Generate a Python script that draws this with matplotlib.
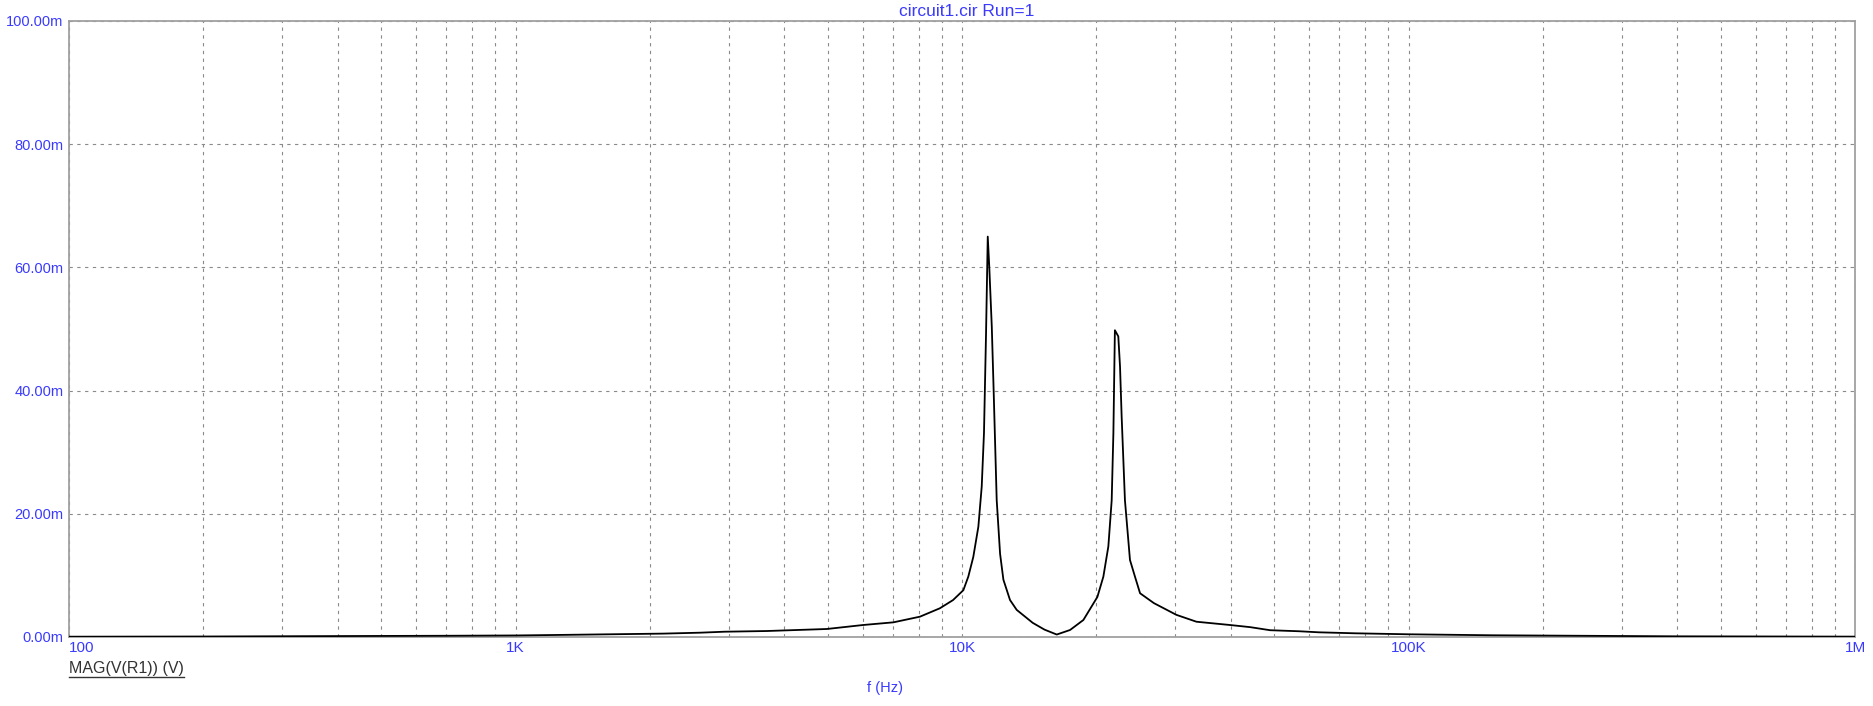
import numpy as np
import matplotlib
matplotlib.use('Agg')
import matplotlib.pyplot as plt
from matplotlib.lines import Line2D
from matplotlib.ticker import FixedLocator, FuncFormatter, NullFormatter

plt.rcParams['font.family'] = ['Liberation Sans', 'DejaVu Sans']

# frequency (Hz) and MAG(V(R1)) in mV
freq = [100, 200, 437, 700, 1000, 1300, 2140, 2590, 2940, 3650, 4980, 6010,
        7020, 8050, 8920, 9550, 10070, 10330, 10600, 10880, 11070, 11200,
        11320, 11420, 11510, 11660, 11760, 11960, 12170, 12380, 12810, 13260,
        14400, 15300, 16300, 17460, 18700, 20100, 20730, 21270, 21640, 21830,
        22000, 22390, 22590, 22780, 23170, 23780, 24400, 25050, 26900, 30200,
        33500, 39800, 44200, 49000, 57000, 63000, 76000, 100000, 154000,
        398000, 1000000]
mag_mv = [0.05, 0.08, 0.16, 0.2, 0.25, 0.35, 0.55, 0.7, 0.86, 0.97, 1.3, 1.95,
          2.38, 3.3, 4.66, 6.0, 7.6, 9.8, 13.0, 17.9, 24.4, 33.1,
          49.3, 65.0, 60.1, 50.4, 41.2, 22.2, 13.5, 9.3, 6.0, 4.4,
          2.3, 1.2, 0.4, 1.14, 2.76, 6.5, 9.8, 14.7, 22.2, 33.1,
          49.8, 48.8, 43.9, 35.8, 22.2, 12.5, 9.8, 7.1, 5.5, 3.6,
          2.48, 1.95, 1.6, 1.1, 0.93, 0.76, 0.6, 0.44, 0.28,
          0.11, 0.06]

x_ticks = [100, 1e3, 1e4, 1e5, 1e6]
x_labels = ['100', '1K', '10K', '100K', '1M']
y_ticks = [0, 20, 40, 60, 80, 100]

blue = '#3a3aff'
frame = '#a0a0a0'

W, H = 1873, 706
fig = plt.figure(figsize=(W / 100, H / 100), dpi=100)
ax = fig.add_axes([69 / W, 69 / H, (1855 - 69) / W, (637 - 21) / H])

ax.plot(freq, mag_mv, color='black', lw=1.3, zorder=3)

ax.set_xscale('log')
ax.set_xlim(100, 1e6)
ax.set_ylim(0, 100)

minor = [m * 10 ** d for d in range(2, 6) for m in range(2, 10)]
ax.xaxis.set_major_locator(FixedLocator(x_ticks))
ax.xaxis.set_minor_locator(FixedLocator(minor))
ax.xaxis.set_minor_formatter(NullFormatter())
ax.set_xticklabels(x_labels)
ax.set_yticks(y_ticks)
ax.yaxis.set_major_formatter(FuncFormatter(lambda v, p: '%.2fm' % v))

ax.tick_params(axis='both', which='both', length=0, colors=blue)
ax.tick_params(axis='x', pad=3, labelsize=11)
ax.tick_params(axis='y', pad=4, labelsize=10.5)
xl = ax.get_xticklabels()
xl[0].set_ha('left')

grid_kw = dict(color='#8a8a8a', lw=0.8, ls=(0, (3, 4)))
ax.grid(True, which='major', axis='both', **grid_kw)
ax.grid(True, which='minor', axis='x', **grid_kw)
ax.set_axisbelow(True)

for s in ax.spines.values():
    s.set_color(frame)
    s.set_linewidth(1.3)

fig.text(967 / W, 1 - 11 / H, 'circuit1.cir Run=1', color=blue, fontsize=12.5,
         ha='center', va='center')
fig.text(885 / W, 1 - 688 / H, 'f (Hz)', color=blue, fontsize=10.5,
         ha='center', va='center')
leg = fig.text(69 / W, 1 - 668 / H, 'MAG(V(R1)) (V)', color='#333333',
               fontsize=11.5, ha='left', va='center')

# underline the trace name
fig.canvas.draw()
bb = leg.get_window_extent().transformed(fig.transFigure.inverted())
fig.add_artist(Line2D([bb.x0, bb.x1], [bb.y0 - 1 / H, bb.y0 - 1 / H],
                      color='#333333', lw=1.0, transform=fig.transFigure))

fig.savefig('out.png', dpi=100)
